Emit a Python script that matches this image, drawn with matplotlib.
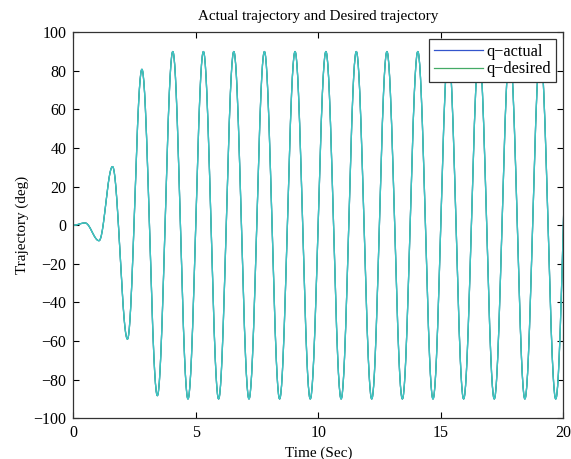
import numpy as np
import matplotlib
matplotlib.use("Agg")
import matplotlib.pyplot as plt

# Extrema of the trajectory (time in s, angle in deg)
ext_time = [0.00, 0.48, 1.05, 1.60, 2.21, 2.80, 3.43, 4.06, 4.68, 5.31, 5.93,
            6.55, 7.17, 7.80, 8.42, 9.05, 9.67, 10.31, 10.93, 11.55, 12.18,
            12.80, 13.43, 14.06, 14.68, 15.31, 15.93, 16.56, 17.18, 17.81,
            18.43, 19.06, 19.69, 20.31]
ext_value = [0.0, 1.2, -8.0, 30.4, -59.0, 80.8, -88.3, 90.0, -90.0, 90.0, -90.0,
             90.0, -90.0, 90.0, -90.0, 90.0, -90.0, 90.0, -90.0, 90.0, -90.0,
             90.0, -90.0, 90.0, -90.0, 90.0, -90.0, 90.0, -90.0, 90.0,
             -90.0, 90.0, -90.0, 90.0]

x_ticks = [0, 5, 10, 15, 20]
y_ticks = list(range(-100, 101, 20))
legend_labels = ["q\u2212actual", "q\u2212desired"]


def smooth_path(tk, vk, n=40):
    """Half-cosine segments joining successive read extrema."""
    ts, vs = [], []
    for i in range(len(tk) - 1):
        s = np.linspace(0, 1, n, endpoint=False)
        ts.append(tk[i] + (tk[i + 1] - tk[i]) * s)
        vs.append(vk[i] + (vk[i + 1] - vk[i]) * (1 - np.cos(np.pi * s)) / 2)
    ts.append([tk[-1]])
    vs.append([vk[-1]])
    return np.concatenate(ts), np.concatenate(vs)


t, q = smooth_path(ext_time, ext_value)

plt.rcParams['font.family'] = ['Liberation Serif', 'DejaVu Serif']
plt.rcParams['mathtext.fontset'] = 'stix'

fig = plt.figure(figsize=(5.71, 4.59), dpi=100)
ax = fig.add_axes([0.1284, 0.0887, 0.8582, 0.8411])

ax.plot(t, q, color='#3355cc', lw=0.9, label=legend_labels[0])
ax.plot(t, q, color='#44aa66', lw=0.9, label=legend_labels[1])
ax.plot(t, q, color='#3cc6c6', lw=0.9)

ax.set_xlim(0, 20)
ax.set_ylim(-100, 100)
ax.set_xticks(x_ticks)
ax.set_yticks(y_ticks)
ax.tick_params(direction='in', length=4, width=0.8, top=True, right=True,
               labelsize=11.5, colors='black', pad=5)
for sp in ax.spines.values():
    sp.set_linewidth(0.9)
    sp.set_color('#333333')

ax.set_title("Actual trajectory and Desired trajectory", fontsize=10.9, pad=9)
ax.set_xlabel("Time (Sec)", fontsize=10.9, labelpad=4)
ax.set_ylabel("Trajectory (deg)", fontsize=10.9, labelpad=3)

leg = ax.legend(loc='upper right', bbox_to_anchor=(0.9845, 0.9826),
                borderaxespad=0, fontsize=11.7, handlelength=3.0,
                handletextpad=0.2, fancybox=False, framealpha=1,
                edgecolor='#333333', borderpad=0.3, labelspacing=0.1)
leg.get_frame().set_linewidth(0.9)

fig.savefig("out.png", dpi=100)
